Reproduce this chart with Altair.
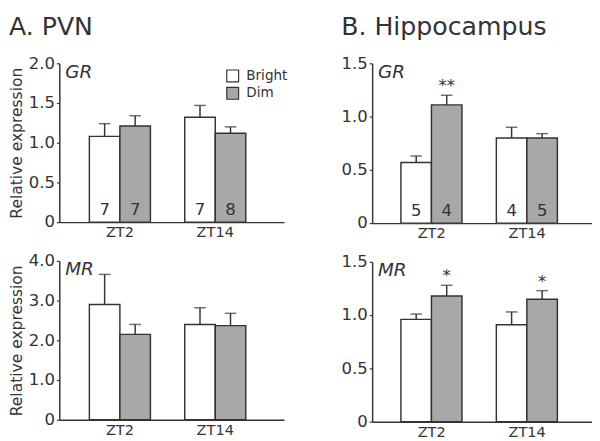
import altair as alt
import pandas as pd

times = ["ZT2", "ZT14"]
groups = ["Bright", "Dim"]

# A. PVN
pvn_gr_mean = {"Bright": [1.08, 1.32], "Dim": [1.21, 1.12]}
pvn_gr_se = {"Bright": [0.16, 0.15], "Dim": [0.13, 0.08]}
pvn_gr_n = {"Bright": ["7", "7"], "Dim": ["7", "8"]}
pvn_mr_mean = {"Bright": [2.90, 2.40], "Dim": [2.15, 2.37]}
pvn_mr_se = {"Bright": [0.76, 0.42], "Dim": [0.25, 0.31]}

# B. Hippocampus
hip_gr_mean = {"Bright": [0.57, 0.80], "Dim": [1.11, 0.80]}
hip_gr_se = {"Bright": [0.06, 0.10], "Dim": [0.09, 0.04]}
hip_gr_n = {"Bright": ["5", "4"], "Dim": ["4", "5"]}
hip_gr_star = {"Bright": ["", ""], "Dim": ["**", ""]}
hip_mr_mean = {"Bright": [0.96, 0.91], "Dim": [1.18, 1.15]}
hip_mr_se = {"Bright": [0.05, 0.12], "Dim": [0.10, 0.08]}
hip_mr_star = {"Bright": ["", ""], "Dim": ["*", "*"]}

FONT = "DejaVu Sans"
INK = "#333333"
GRAY = "#a8a8a8"


def make_df(mean, se, n=None, star=None):
    rows = []
    for g in groups:
        for i, t in enumerate(times):
            rows.append({
                "time": t, "group": g, "mean": mean[g][i], "se": se[g][i],
                "upper": mean[g][i] + se[g][i],
                "n": n[g][i] if n else "",
                "star": star[g][i] if star else "",
            })
    return pd.DataFrame(rows)


def panel(df, ymax, ticks, fmt, gene, width, height, ytitle, pi, po, al, legend=False):
    xenc = alt.X("time:N", sort=times, title=None,
                 scale=alt.Scale(paddingInner=pi, paddingOuter=po, align=al),
                 axis=alt.Axis(labelAngle=0, ticks=False, tickSize=0, domainColor=INK, domainWidth=1.5,
                               labelFontSize=15, labelColor=INK, labelPadding=3, labelFont=FONT))
    xo = alt.XOffset("group:N", sort=groups, scale=alt.Scale(paddingInner=0, paddingOuter=0))
    yaxis = alt.Axis(values=ticks, labelExpr=f"datum.value == 0 ? '0' : format(datum.value, '{fmt}')",
                     tickSize=3, tickColor=INK, tickWidth=1.2, domainColor=INK, domainWidth=1.5,
                     grid=False, labelFontSize=17, labelColor=INK, labelPadding=2, labelFont=FONT,
                     title=ytitle if ytitle else None, titleFontSize=16, titleFontWeight="normal",
                     titleColor=INK, titleFont=FONT, titlePadding=4)
    yenc = alt.Y("mean:Q", scale=alt.Scale(domain=[0, ymax], nice=False), axis=yaxis)
    base = alt.Chart(df)
    bars = base.mark_bar(stroke=INK, strokeWidth=1.5).encode(
        x=xenc, xOffset=xo, y=yenc,
        fill=alt.Fill("group:N", scale=alt.Scale(domain=groups, range=["white", GRAY]), legend=None))
    rule = base.mark_rule(color=INK, strokeWidth=1.5).encode(
        x=xenc, xOffset=xo, y="mean:Q", y2="upper:Q")
    cap = base.mark_tick(color=INK, thickness=1.5, size=12, orient="horizontal").encode(
        x=xenc, xOffset=xo, y="upper:Q")
    layers = [bars, rule, cap]
    if (df["n"] != "").any():
        layers.append(base.mark_text(fontSize=17, font=FONT, color=INK, baseline="middle").encode(
            x=xenc, xOffset=xo, y=alt.value(height - 12), text="n:N"))
    if (df["star"] != "").any():
        layers.append(base.transform_filter("datum.star != ''").mark_text(
            fontSize=17, font=FONT, color=INK, baseline="bottom", dy=0).encode(
            x=xenc, xOffset=xo, y="upper:Q", text="star:N"))
    layers.append(alt.Chart(pd.DataFrame({"gene": [gene]})).mark_text(
        fontSize=19, font=FONT, fontStyle="italic", color=INK, align="left", baseline="middle").encode(
        x=alt.value(6), y=alt.value(9), text="gene:N"))
    if legend:
        for i, g in enumerate(groups):
            ld = pd.DataFrame({"group": [g]})
            layers.append(alt.Chart(ld).mark_point(shape="square", filled=True, size=150,
                                                   stroke=INK, strokeWidth=1.2, opacity=1).encode(
                x=alt.value(179), y=alt.value(13 + 18 * i),
                fill=alt.Fill("group:N", scale=alt.Scale(domain=groups, range=["white", GRAY]), legend=None)))
            layers.append(alt.Chart(ld).mark_text(fontSize=14, font=FONT, color=INK, align="left",
                                                  baseline="middle").encode(
                x=alt.value(193), y=alt.value(13 + 18 * i), text="group:N"))
    return alt.layer(*layers).properties(width=width, height=height)


a_gr = panel(make_df(pvn_gr_mean, pvn_gr_se, n=pvn_gr_n), 2.0, [0, 0.5, 1.0, 1.5, 2.0], ".1f",
             "GR", 232, 164, "Relative expression", 0.36, 0.358, 0.44, legend=True)
a_mr = panel(make_df(pvn_mr_mean, pvn_mr_se), 4.0, [0, 1, 2, 3, 4], ".1f",
             "MR", 232, 164, "Relative expression", 0.36, 0.358, 0.44)
b_gr = panel(make_df(hip_gr_mean, hip_gr_se, n=hip_gr_n, star=hip_gr_star), 1.5, [0, 0.5, 1.0, 1.5], ".1f",
             "GR", 227, 165, None, 0.356, 0.33, 0.457)
b_mr = panel(make_df(hip_mr_mean, hip_mr_se, star=hip_mr_star), 1.5, [0, 0.5, 1.0, 1.5], ".1f",
             "MR", 227, 165, None, 0.356, 0.33, 0.457)

col_a = alt.vconcat(a_gr, a_mr, spacing=13).properties(
    title=alt.TitleParams("A. PVN", anchor="start", fontSize=26, font=FONT, fontWeight="normal",
                          color=INK, offset=15, frame="bounds"))
col_b = alt.vconcat(b_gr, b_mr, spacing=13).properties(
    title=alt.TitleParams("B. Hippocampus", anchor="start", fontSize=26, font=FONT, fontWeight="normal",
                          color=INK, offset=15, frame="bounds"))

chart = alt.hconcat(col_a, col_b, spacing=54).properties(
    padding={"left": 0, "top": 0, "right": 0, "bottom": 0}
).configure(font=FONT).configure_view(stroke=None)

chart.save("out.html", embed_options={"renderer": "svg", "actions": False})
